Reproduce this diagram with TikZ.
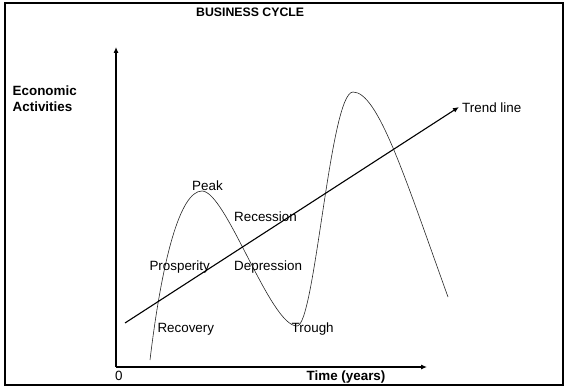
\documentclass[tikz,border=0pt]{standalone}
\usepackage{fontspec}
\setmainfont{Liberation Sans}
\usetikzlibrary{arrows.meta}

\begin{document}
\begin{tikzpicture}[x=1pt,y=-1pt,
  lbl/.style={anchor=base west,inner sep=0pt,font=\fontsize{13.4}{16}\selectfont},
  boldlbl/.style={lbl,font=\fontsize{13.4}{16}\selectfont\bfseries},
  axis/.style={line width=1.1pt,-{Latex[length=6pt,width=5pt]}}]
\useasboundingbox (0,0) rectangle (570,390);
\draw[line width=1.2pt] (5,3) rectangle (563,385);
% axes
\coordinate (o) at (116,367);
\coordinate (ytip) at (116,47);
\coordinate (xtip) at (427,367);
\draw[axis] (o) -- (ytip);
\draw[axis] (o) -- (xtip);
% cycle curve
\draw[line width=0.6pt,black!85] (150,360) .. controls (162,260) and (180,191) .. (202,191)
  .. controls (226,191) and (270,326) .. (297,326)
  .. controls (315,326) and (330,92) .. (353,92)
  .. controls (378,92) and (404.8,177) .. (448,297);
% trend
\coordinate (tstart) at (125,323);
\coordinate (tend) at (459,107);
\draw[line width=1.1pt,-{Latex[length=6pt,width=5pt]}] (tstart) -- (tend);
% labels
\node[boldlbl,font=\fontsize{12.3}{15}\selectfont\bfseries] (title) at (196,17) {BUSINESS CYCLE};
\node[boldlbl] (econ) at (12.5,96) {Economic};
\node[boldlbl] (activ) at (12.5,112) {Activities};
\node[lbl] (zero) at (115,380) {0};
\node[boldlbl] (time) at (306.5,380) {Time (years)};
\node[lbl] (trendlbl) at (462,113) {Trend line};
\node[lbl] (peak) at (192,191) {Peak};
\node[lbl] (recession) at (234,222) {Recession};
\node[lbl] (prosperity) at (149.3,270) {Prosperity};
\node[lbl] (depression) at (234,270) {Depression};
\node[lbl] (recovery) at (157.3,332.7) {Recovery};
\node[lbl] (trough) at (291.5,332.7) {Trough};
\end{tikzpicture}
\end{document}
